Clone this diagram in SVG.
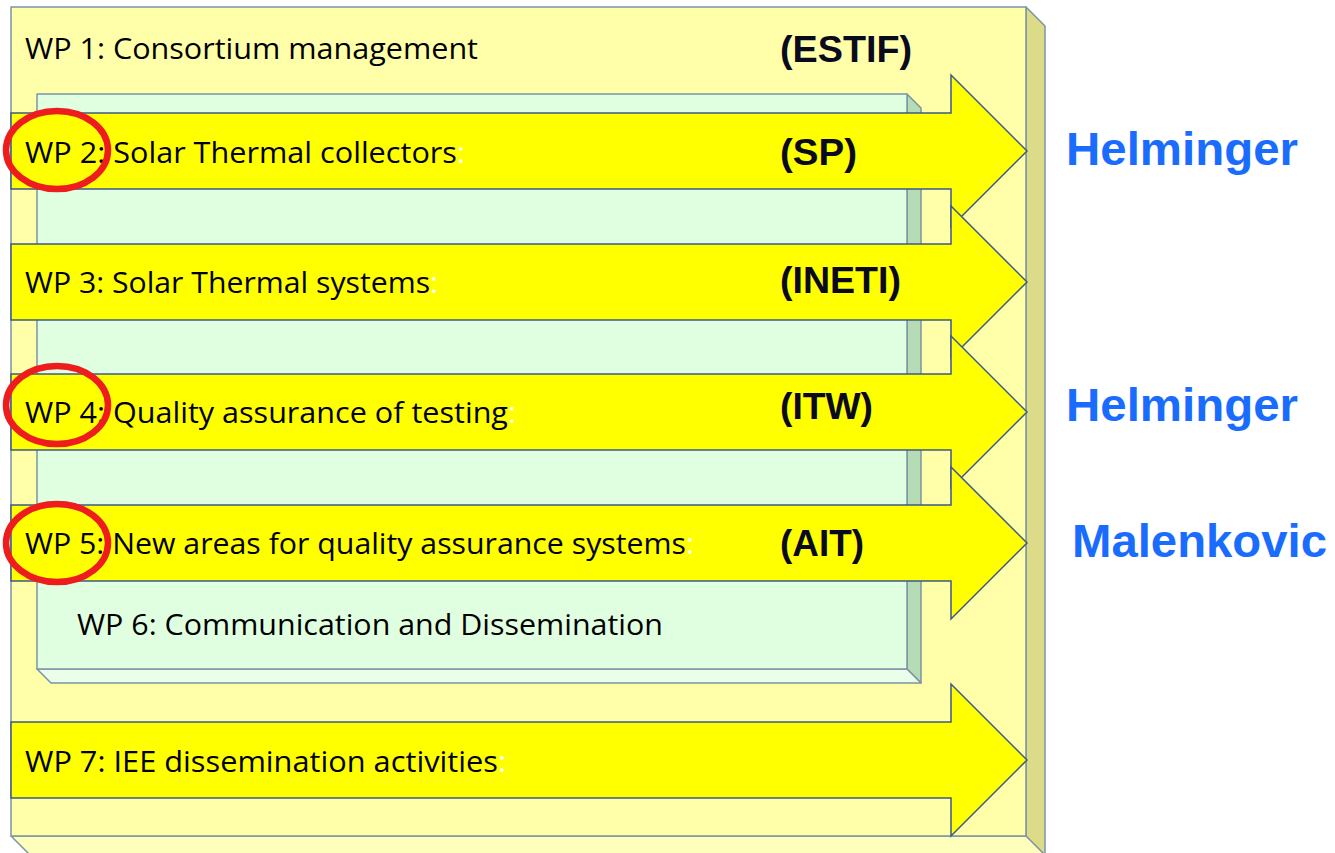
<svg xmlns="http://www.w3.org/2000/svg" width="1335" height="853" viewBox="0 0 1335 853">
  <defs>
    <style>
      .edge { stroke: #7d94a6; stroke-width: 1.5; stroke-linejoin: round; }
      .arrow { fill: #ffff00; stroke: #3b5a8c; stroke-width: 1.5; stroke-linejoin: miter; }
      .wp { font-family: "Open Sans", "Lato", "Liberation Sans", sans-serif; font-size: 30px; fill: #000000; }
      .colon { fill: #ffffff; }
      .org { font-family: "Liberation Sans", Arial, sans-serif; font-weight: bold; font-size: 36px; fill: #0a0a1e; }
      .person { font-family: "Liberation Sans", Arial, sans-serif; font-weight: bold; font-size: 46px; fill: #1a6cff; }
      .mark { fill: none; stroke: #ee1c1c; stroke-width: 6.5; }
    </style>
  </defs>
  <rect width="1335" height="853" fill="#ffffff"/>

  <!-- outer work-package frame (bevelled block) -->
  <g id="frame">
    <polygon class="edge" points="1026,7 1045,26 1045,860 1026,836" fill="#dcdc88"/>
    <polygon class="edge" points="11,836 1026,836 1045,855 30,855" fill="#ffffbc"/>
    <rect class="edge" x="11" y="7" width="1015" height="829" fill="#ffffaa"/>
  </g>

  <!-- inner block for WP 2 – WP 6 -->
  <g id="inner-block">
    <polygon class="edge" points="907,94 921,108 921,683 907,669" fill="#b5dcb5"/>
    <polygon class="edge" points="37,669 907,669 921,683 51,683" fill="#eafeea"/>
    <rect class="edge" x="37" y="94" width="870" height="575" fill="#e0ffe0"/>
  </g>

  <!-- work-package arrows -->
  <g id="connectors">
    <path id="arrow-wp2" class="arrow" d="M11,113 H951 V75 L1027,151 L951,227 V189 H11 Z"/>
    <path id="arrow-wp3" class="arrow" d="M11,244 H951 V206 L1027,282 L951,358 V320 H11 Z"/>
    <path id="arrow-wp4" class="arrow" d="M11,374 H951 V336 L1027,412 L951,488 V450 H11 Z"/>
    <path id="arrow-wp5" class="arrow" d="M11,505 H951 V467 L1027,543 L951,619 V581 H11 Z"/>
    <path id="arrow-wp7" class="arrow" d="M11,722 H951 V684 L1027,760 L951,836 V798 H11 Z"/>
  </g>

  <g id="wp1">
    <text class="wp" x="25" y="59" textLength="453" lengthAdjust="spacingAndGlyphs">WP 1: Consortium management</text>
    <text class="org" x="780" y="62" textLength="132" lengthAdjust="spacingAndGlyphs">(ESTIF)</text>
  </g>
  <g id="wp2">
    <text class="wp" x="25" y="163" textLength="440" lengthAdjust="spacingAndGlyphs">WP 2: Solar Thermal collectors<tspan class="colon">:</tspan></text>
    <text class="org" x="780" y="165" textLength="77" lengthAdjust="spacingAndGlyphs">(SP)</text>
  </g>
  <g id="wp3">
    <text class="wp" x="25" y="293" textLength="413" lengthAdjust="spacingAndGlyphs">WP 3: Solar Thermal systems<tspan class="colon">:</tspan></text>
    <text class="org" x="780" y="293" textLength="121" lengthAdjust="spacingAndGlyphs">(INETI)</text>
  </g>
  <g id="wp4">
    <text class="wp" x="25" y="423" textLength="491" lengthAdjust="spacingAndGlyphs">WP 4: Quality assurance of testing<tspan class="colon">:</tspan></text>
    <text class="org" x="780" y="419" textLength="93" lengthAdjust="spacingAndGlyphs">(ITW)</text>
  </g>
  <g id="wp5">
    <text class="wp" x="25" y="554" textLength="669" lengthAdjust="spacingAndGlyphs">WP 5: New areas for quality assurance systems<tspan class="colon">:</tspan></text>
    <text class="org" x="780" y="556" textLength="84" lengthAdjust="spacingAndGlyphs">(AIT)</text>
  </g>
  <g id="wp6">
    <text class="wp" x="77" y="635" textLength="586" lengthAdjust="spacingAndGlyphs">WP 6: Communication and Dissemination</text>
  </g>
  <g id="wp7">
    <text class="wp" x="25" y="772" textLength="481" lengthAdjust="spacingAndGlyphs">WP 7: IEE dissemination activities<tspan class="colon">:</tspan></text>
  </g>

  <!-- highlighted work packages -->
  <g id="highlights">
    <ellipse class="mark" cx="57" cy="150" rx="51" ry="39"/>
    <ellipse class="mark" cx="57" cy="405" rx="51" ry="39"/>
    <ellipse class="mark" cx="57" cy="543" rx="51" ry="39"/>
  </g>

  <!-- responsible persons -->
  <g id="persons">
    <text class="person" x="1066" y="165" textLength="232" lengthAdjust="spacingAndGlyphs">Helminger</text>
    <text class="person" x="1066" y="421" textLength="232" lengthAdjust="spacingAndGlyphs">Helminger</text>
    <text class="person" x="1072" y="557" textLength="255" lengthAdjust="spacingAndGlyphs">Malenkovic</text>
  </g>
</svg>
